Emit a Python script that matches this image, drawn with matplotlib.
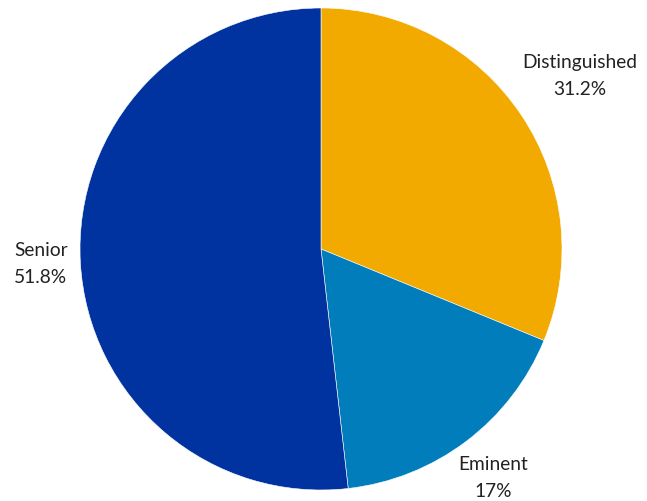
import matplotlib.pyplot as plt

# data
labels = ["Distinguished", "Eminent", "Senior"]
shares = [31.2, 17, 51.8]
colors = ["#F2A900", "#007DBA", "#0033A0"]
label_pos = [(1.075, 0.718), (0.714, -0.95), (-1.162, -0.062)]

plt.rcParams['font.family'] = ['Lato', 'DejaVu Sans']

fig = plt.figure(figsize=(6.47, 5.01), dpi=100)
ax = fig.add_axes([80 / 647, 11 / 501, 482 / 647, 482 / 501])

ax.pie(shares, colors=colors, startangle=90, counterclock=False,
       radius=1.0, wedgeprops=dict(edgecolor="white", linewidth=0.4))

for name, val, (x, y) in zip(labels, shares, label_pos):
    txt = "%s\n%s%%" % (name, ("%g" % val))
    ax.text(x, y, txt, ha="center", va="center", fontsize=13.8,
            color="#222222", linespacing=1.7)

ax.set_xlim(-1, 1)
ax.set_ylim(-1, 1)
ax.set_aspect("equal")
ax.axis("off")

fig.savefig("out.png", dpi=100)
